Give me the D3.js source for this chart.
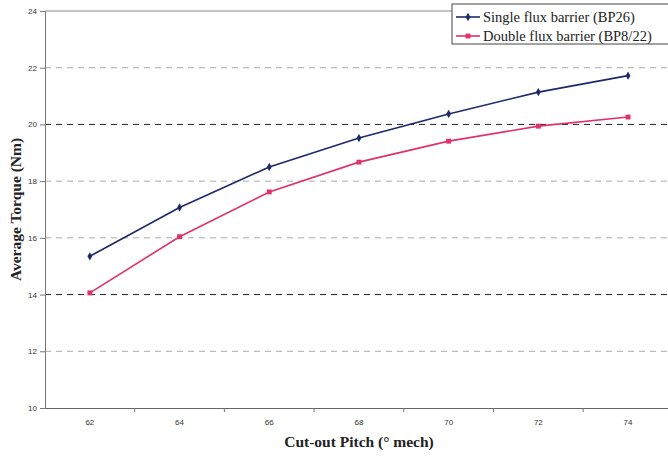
<html><head>
<meta charset="UTF-8">
<title>Average Torque vs Cut-out Pitch</title>
<style>
  body { margin: 0; padding: 0; background: #fff; overflow: hidden; }
  svg { display: block; }
</style>
</head>
<body>
<div id="chart"></div>
<script src="https://d3js.org/d3.v7.min.js"></script>
<script>
  // data
  const pitches = [62, 64, 66, 68, 70, 72, 74];
  const singleBarrier = [15.35, 17.07, 18.5, 19.52, 20.37, 21.14, 21.72];
  const doubleBarrier = [14.06, 16.04, 17.62, 18.67, 19.41, 19.94, 20.26];
  const yTicks = [10, 12, 14, 16, 18, 20, 22, 24];
  const seriesNames = ["Single flux barrier (BP26)", "Double flux barrier (BP8/22)"];

  const width = 668, height = 459;
  const plotLeft = 45, plotTop = 11, plotBottom = 408;
  const band = 89.7;

  const svg = d3.select("#chart").append("svg")
    .attr("width", width)
    .attr("height", height);

  const x = d3.scaleBand()
    .domain(pitches)
    .range([plotLeft, plotLeft + band * pitches.length]);

  const y = d3.scaleLinear()
    .domain([10, 24])
    .range([plotBottom, plotTop]);

  // gridlines (scan shows some darker than others)
  const darkLines = [14, 20];
  svg.append("g").selectAll("line")
    .data(yTicks.filter(d => d > 10 && d < 24))
    .enter().append("line")
    .attr("x1", plotLeft).attr("x2", width)
    .attr("y1", d => y(d)).attr("y2", d => y(d))
    .attr("stroke", d => darkLines.includes(d) ? "#222" : "#aaa")
    .attr("stroke-width", 1)
    .attr("stroke-dasharray", "6,5");

  // top border
  svg.append("line")
    .attr("x1", plotLeft).attr("x2", width)
    .attr("y1", y(24)).attr("y2", y(24))
    .attr("stroke", "#888");

  // y axis
  const yAxis = svg.append("g")
    .attr("transform", `translate(${plotLeft},0)`)
    .call(d3.axisLeft(y).tickValues(yTicks).tickSize(5).tickFormat(d3.format("d")));
  yAxis.select(".domain").attr("stroke", "#777");
  yAxis.selectAll(".tick line").attr("stroke", "#777");
  yAxis.selectAll("text")
    .attr("font-family", "Liberation Sans, Arial, sans-serif")
    .attr("font-size", 8)
    .attr("fill", "#333");

  // x axis, ticks between categories
  const xAxis = svg.append("g")
    .attr("transform", `translate(0,${plotBottom})`)
    .call(d3.axisBottom(x).tickSize(0).tickPadding(11));
  xAxis.select(".domain").attr("stroke", "#666");
  xAxis.selectAll("text")
    .attr("font-family", "Liberation Sans, Arial, sans-serif")
    .attr("font-size", 8)
    .attr("fill", "#333");
  xAxis.selectAll(".sep")
    .data(pitches.slice(1))
    .enter().append("line")
    .attr("class", "sep")
    .attr("x1", d => x(d)).attr("x2", d => x(d))
    .attr("y1", 0).attr("y2", 4)
    .attr("stroke", "#777");

  const line = d3.line()
    .x((d, i) => x(pitches[i]) + x.bandwidth() / 2)
    .y(d => y(d));

  const series = [
    { name: seriesNames[0], values: singleBarrier, color: "#1c2a6b", shape: d3.symbolDiamond, size: 20 },
    { name: seriesNames[1], values: doubleBarrier, color: "#e0306e", shape: d3.symbolSquare, size: 24 }
  ];

  series.forEach(s => {
    svg.append("path")
      .datum(s.values)
      .attr("fill", "none")
      .attr("stroke", s.color)
      .attr("stroke-width", 1.6)
      .attr("d", line);

    svg.append("g").selectAll("path")
      .data(s.values)
      .enter().append("path")
      .attr("transform", (d, i) => `translate(${x(pitches[i]) + x.bandwidth() / 2},${y(d)})`)
      .attr("d", d3.symbol().type(s.shape).size(s.size))
      .attr("fill", s.color);
  });

  // legend
  const legend = svg.append("g").attr("transform", "translate(452,4)");
  legend.append("rect")
    .attr("x", 0).attr("y", 0)
    .attr("width", 230).attr("height", 40)
    .attr("fill", "#fff")
    .attr("stroke", "#444");
  series.forEach((s, i) => {
    const ly = 13 + i * 19;
    legend.append("line")
      .attr("x1", 4).attr("x2", 28)
      .attr("y1", ly).attr("y2", ly)
      .attr("stroke", s.color).attr("stroke-width", 1.6);
    legend.append("path")
      .attr("transform", `translate(16,${ly})`)
      .attr("d", d3.symbol().type(s.shape).size(s.size))
      .attr("fill", s.color);
    legend.append("text")
      .attr("x", 31).attr("y", ly + 5)
      .attr("font-family", "Liberation Serif, Times New Roman, serif")
      .attr("font-size", 14.5)
      .attr("fill", "#222")
      .text(s.name);
  });

  // axis titles
  svg.append("text")
    .attr("transform", `translate(21,${(plotTop + plotBottom) / 2}) rotate(-90)`)
    .attr("text-anchor", "middle")
    .attr("font-family", "Liberation Serif, Times New Roman, serif")
    .attr("font-weight", "bold")
    .attr("font-size", 15.5)
    .attr("fill", "#222")
    .text("Average Torque (Nm)");

  svg.append("text")
    .attr("x", 359).attr("y", 447)
    .attr("text-anchor", "middle")
    .attr("font-family", "Liberation Serif, Times New Roman, serif")
    .attr("font-weight", "bold")
    .attr("font-size", 15.5)
    .attr("fill", "#222")
    .text("Cut-out Pitch (° mech)");
</script>
</body></html>
